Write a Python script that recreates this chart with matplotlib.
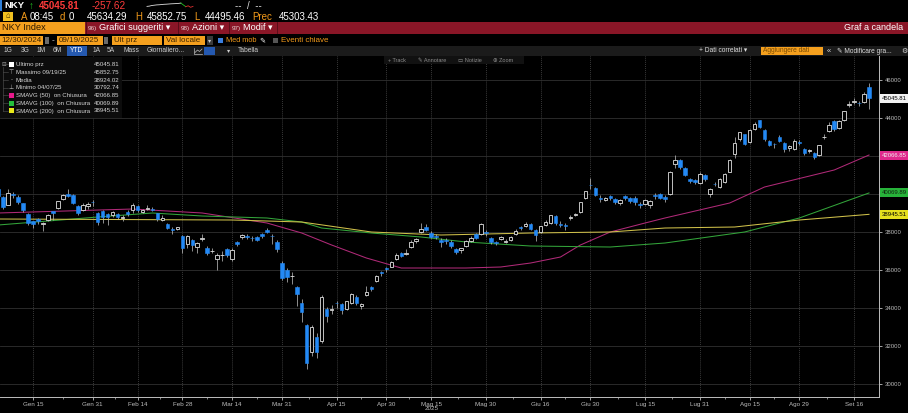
import numpy as np
import matplotlib
matplotlib.use("Agg")
import matplotlib.pyplot as plt
from matplotlib.patches import Rectangle

W, H = 908, 413
FONT = ['Liberation Sans', 'DejaVu Sans']
plt.rcParams['font.family'] = FONT

# ---------------- data (Nikkei 225, daily, trading-day index) ----------------
opens = [40281,
         39850, 39452, 40017, 39862, 39540, 38969, 38575, 38720, 38450, 38650, 39100, 39300, 39760, 40000, 39950, 39400, 39200, 39400, 39600,
         38990, 39100, 38950, 38900, 38980, 38750, 39050, 39200, 39400, 39080, 39250, 39250, 39000, 38650, 38450, 38150, 38200, 37800,
         37400, 37600, 37250, 37650, 37200, 37000, 36600, 36800, 37100, 36600, 37500, 37750, 37800, 37700, 37750, 37900, 38100, 37800, 37500, 36400,
         36000, 35700, 35100, 34300, 33100, 31700, 32500, 32300, 33950, 33900, 34300, 34250, 33950, 34300, 34600, 34100, 34700, 35100, 35450, 35900, 36100,
         36200, 36600, 36900, 36850, 37250, 37550, 38000, 38300, 37950, 37800, 37600, 37600, 37500, 37100, 37050, 37300, 37550, 37900, 37900, 38000,
         37700, 37450, 37650, 37500, 37600, 37900, 38300, 38350, 38450, 38100, 38000, 38400, 38500, 38850, 38450, 38400, 38750, 38900, 39050, 39800, 40500,
         40350, 39800, 39700, 39900, 39750, 39550, 39900, 39800, 39800, 39500, 39500, 39450, 39950, 40000, 39850, 40000, 41600, 41800, 41400, 40800, 40750, 40600,
         41000, 40000, 40550, 40400, 40650, 41200, 42100, 42900, 43150, 42750, 43450, 43900, 43400, 42800, 42650, 43000, 42700, 42450, 42400, 42750,
         42400, 42300, 42150, 42050, 43000, 43350, 43850, 43500, 43900, 44700, 44850, 44800, 44850, 45634.29]
highs = [40398,
         39922, 40288, 40118, 39960, 39547, 39000, 38605, 38778, 38544, 38950, 39090, 39650, 40036, 40279, 40000, 39420, 39560, 39600, 39700,
         39050, 39150, 39000, 39100, 39000, 38900, 39150, 39520, 39450, 39250, 39450, 39350, 39020, 38900, 38500, 38300, 38300, 37850,
         37850, 37650, 37500, 37900, 37300, 37200, 36900, 37000, 37200, 37200, 37550, 37900, 37900, 37800, 37800, 37950, 38220, 37900, 37600, 36500,
         36100, 35900, 35200, 34500, 33200, 33100, 32700, 34700, 34050, 34200, 34400, 34300, 34400, 34800, 34700, 34300, 35200, 35200, 35750, 35950, 36150,
         36500, 36900, 36950, 37100, 37600, 37700, 38500, 38450, 38050, 37900, 37700, 37700, 37600, 37200, 37200, 37600, 37800, 37950, 38500, 38100,
         37750, 37550, 37800, 37650, 37800, 38150, 38350, 38550, 38500, 38150, 38350, 38650, 38900, 38900, 38600, 38500, 38900, 39000, 39600, 40200, 40850,
         40400, 39950, 39850, 39950, 39800, 39750, 39950, 39850, 39900, 39600, 39750, 39700, 40050, 40050, 39950, 41250, 42065, 41850, 41450, 40850, 40800, 41150,
         41050, 40350, 40650, 40850, 41100, 41850, 42999, 43300, 43200, 43450, 43800, 43900, 43450, 42850, 42700, 43100, 42750, 42600, 42900, 42850,
         42450, 42400, 42250, 42600, 43200, 43800, 43900, 43900, 44400, 44900, 45050, 44900, 45400, 45852.75]
lows = [39745,
        39211, 39431, 39800, 39512, 39062, 38405, 38221, 38428, 38055, 38612, 38650, 39250, 39700, 39880, 39486, 38900, 39100, 39250, 39400,
        38400, 38500, 38400, 38800, 38700, 38600, 38850, 39000, 39050, 39000, 39150, 39100, 38600, 38600, 38200, 37900, 38100, 36900,
        37200, 37000, 36900, 37550, 36800, 36900, 36000, 36500, 36700, 36500, 37300, 37650, 37650, 37550, 37550, 37700, 37950, 37400, 36950, 35500,
        35400, 35300, 34100, 33300, 30792.74, 31500, 31400, 32200, 33300, 33700, 34000, 33700, 33900, 34250, 34200, 33950, 34650, 34900, 35400, 35700, 35900,
        36150, 36550, 36700, 36800, 37150, 37450, 37950, 38050, 37700, 37650, 37250, 37400, 37200, 36850, 36900, 37250, 37500, 37650, 37850, 37800,
        37400, 37350, 37600, 37450, 37550, 37850, 38100, 38300, 38100, 37550, 37950, 38350, 38450, 38400, 38300, 38100, 38650, 38850, 39000, 39750, 40300,
        39900, 39600, 39650, 39700, 39500, 39450, 39700, 39550, 39450, 39300, 39450, 39300, 39750, 39750, 39600, 39950, 41400, 41350, 40950, 40600, 40550, 40550,
        40700, 39850, 40450, 40350, 40600, 41150, 41900, 42800, 42600, 42700, 43400, 43500, 42800, 42550, 42450, 42750, 42250, 42300, 42350, 42600,
        42050, 42150, 41850, 42000, 42900, 43300, 43350, 43450, 43850, 44600, 44750, 44650, 44800, 44495.46]
closes = [39894.54,
          39307, 40083, 39981, 39605, 39190, 38474, 38444, 38572, 38451, 38902, 39027, 39646, 39958, 39931, 39565, 39016, 39414, 39513, 39572,
          38520, 38798, 38831, 39066, 38787, 38801, 38963, 39461, 39149, 39174, 39270, 39164, 38678, 38776, 38237, 38142, 38256, 37155,
          37785, 37331, 37418, 37704, 36887, 37028, 36793, 36819, 36790, 37053, 37396, 37845, 37751, 37677, 37608, 37780, 38027, 37799, 37120, 35617,
          35624, 35725, 34735, 33780, 31136, 33012, 31714, 34609, 33585, 33982, 34267, 33920, 34377, 34730, 34279, 34220, 34868, 35039, 35705, 35839, 36045,
          36452, 36830, 36779, 36928, 37503, 37644, 38183, 38128, 37755, 37753, 37498, 37529, 37298, 36985, 37160, 37531, 37724, 37722, 38432, 37965,
          37470, 37446, 37747, 37554, 37741, 38088, 38211, 38421, 38173, 37834, 38311, 38536, 38885, 38488, 38403, 38354, 38790, 38942, 39584, 40150, 40487,
          39986, 39762, 39785, 39810, 39587, 39688, 39821, 39646, 39569, 39459, 39678, 39663, 39901, 39819, 39774, 41171, 41826, 41456, 40998, 40674, 40654, 41069,
          40799, 40290, 40549, 40794, 41059, 41820, 42718, 43274, 42649, 43378, 43714, 43546, 42888, 42610, 42633, 42807, 42394, 42520, 42828, 42718,
          42188, 42310, 41938, 42580, 43018, 43643, 43459, 43837, 44372, 44768, 44902, 44790, 45303.43, 45045.81]

# moving averages (read at sampled trading-day indices)
sma50_idx = [0, 27, 41, 54, 61, 67, 74, 81, 94, 101, 107, 113, 117, 123, 130, 134, 147, 154, 168, 175]
sma50_val = [39016, 39226, 39016, 38490, 37963, 37332, 36647, 36121, 36121, 36174, 36384, 36700, 37332, 38016, 38490, 38753, 39542, 40384, 41279, 42066.85]
sma100_idx = [0, 20, 31, 41, 54, 61, 65, 75, 85, 94, 107, 123, 134, 150, 161, 175]
sma100_val = [38384, 38805, 39016, 38858, 38753, 38542, 38226, 37963, 37753, 37490, 37279, 37226, 37437, 38016, 38753, 40069.89]
sma200_idx = [0, 47, 61, 75, 89, 107, 123, 134, 148, 161, 175]
sma200_val = [38700, 38647, 38542, 38016, 37858, 37963, 38016, 38226, 38279, 38647, 38945.51]

xtick_idx = [7, 19, 28, 37, 47, 57, 68, 78, 87, 98, 109, 119, 130, 141, 151, 161, 172]
xtick_labels = ['Gen 15', 'Gen 31', 'Feb 14', 'Feb 28', 'Mar 14', 'Mar 31', 'Apr 15', 'Apr 30', 'Mag 15',
                'Mag 30', 'Giu 16', 'Giu 30', 'Lug 15', 'Lug 31', 'Ago 15', 'Ago 29', 'Set 16']
ytick_vals = [30000, 32000, 34000, 36000, 38000, 40000, 42000, 44000, 46000]
ytick_hidden = [40000, 42000]   # covered by the value boxes in the reference

legend_labels = ['Ultimo prz', 'Massimo 09/19/25', 'Media', 'Minimo 04/07/25',
                 'SMAVG (50)  on Chiusura', 'SMAVG (100)  on Chiusura', 'SMAVG (200)  on Chiusura']
legend_values = [45045.81, 45852.75, 38924.02, 30792.74, 42066.85, 40069.89, 38945.51]
spark_vals = [0.35, 0.4, 0.5, 0.55, 0.6, 0.62, 0.66, 0.7, 0.72, 0.75, 0.78, 0.8, 0.82, 0.85, 0.9, 0.6, 0.3, 0.45, 0.2, 0.35]

# ---------------- figure ----------------
fig = plt.figure(figsize=(W / 100, H / 100), dpi=100, facecolor='black')
top_px, bot_px, right_px = 56, 397, 879
ax = fig.add_axes([0, (H - bot_px) / H, right_px / W, (bot_px - top_px) / H])
ax.set_facecolor('black')

px_per_day, x0_px = 4.976, -1.8
ax.set_xlim((0 - x0_px) / px_per_day, (right_px - x0_px) / px_per_day)
ax.set_ylim(29332, 47279)

ax.set_yticks(ytick_vals)
ax.set_yticklabels(['' if v in ytick_hidden else str(v) for v in ytick_vals])
ax.set_xticks(xtick_idx)
ax.set_xticklabels(xtick_labels)
mids = [(a + b) / 2 for a, b in zip(xtick_idx[:-1], xtick_idx[1:])]
ax.set_xticks(mids, minor=True)
ax.yaxis.grid(True, color='#303030', lw=0.6)
ax.xaxis.grid(True, which='major', color='#5a5a5a', lw=0.5, linestyle=(0, (1.2, 1.6)))
ax.set_axisbelow(True)
ax.yaxis.tick_right()
ax.tick_params(axis='y', colors='#bdbdbd', labelsize=4.3, length=2, width=0.6, pad=2.5)
ax.tick_params(axis='x', which='major', colors='#bdbdbd', labelsize=4.5, length=2, width=0.6, pad=1.8)
ax.tick_params(axis='x', which='minor', colors='#9a9a9a', length=1.5, width=0.6)
for s in ['top', 'left']:
    ax.spines[s].set_visible(False)
for s in ['right', 'bottom']:
    ax.spines[s].set_color('#bdbdbd')
    ax.spines[s].set_linewidth(0.7)

# moving averages
ax.plot(sma50_idx, sma50_val, color='#b02a78', lw=0.75, zorder=2)
ax.plot(sma100_idx, sma100_val, color='#33a43a', lw=0.75, zorder=2)
ax.plot(sma200_idx, sma200_val, color='#cfc04a', lw=0.75, zorder=2)

# candles
o, hi, lo, c = map(np.array, (opens, highs, lows, closes))
idx = np.arange(len(c))
up = c >= o
blue = '#2389f5'
body_b = np.minimum(o, c)
body_h = np.maximum(np.abs(c - o), 18)
ax.vlines(idx, lo, hi, color='#b5b5b5', lw=0.55, zorder=3)
ax.bar(idx[up], body_h[up], bottom=body_b[up], width=0.7, facecolor='black',
       edgecolor='#e0e0e0', lw=0.6, zorder=4)
ax.bar(idx[~up], body_h[~up], bottom=body_b[~up], width=0.7, facecolor=blue,
       edgecolor=blue, lw=0.4, zorder=4)

# ---------------- overlay in pixel coordinates ----------------
hx = fig.add_axes([0, 0, 1, 1], zorder=10)
hx.set_xlim(0, W)
hx.set_ylim(H, 0)
hx.axis('off')
hx.patch.set_alpha(0)


def rect(x, y, w, h, fc, ec='none', lw=0.5, z=1):
    hx.add_patch(Rectangle((x, y), w, h, facecolor=fc, edgecolor=ec, lw=lw, zorder=z))


def txt(x, y, s, color='#d8d8d8', size=7, ha='left', weight='normal', z=3):
    hx.text(x, y, s, color=color, fontsize=size, ha=ha, va='center', fontweight=weight,
            family=FONT, zorder=z)


ORANGE = '#f5a01e'
ORANGE_T = '#f39a1a'
RED = '#ff3b3b'

# row 1
rect(0, 0, 2, 11, '#2f7fd8')
txt(4, 6, 'NKY', 'white', 6.8, weight='bold')
txt(29, 6, '↑', '#20c020', 7)
txt(39, 6, '45045.81', RED, 7, weight='bold')
txt(92, 6, '-257.62', RED, 7.2)
sx = np.linspace(147, 193, len(spark_vals))
sy = 8.5 - 6 * np.array(spark_vals)
hx.plot(sx[:15], sy[:15], color='#e0e0e0', lw=0.6)
hx.plot(sx[14:17], sy[14:17], color='#22c022', lw=0.6)
hx.plot(sx[16:], sy[16:], color='#e03030', lw=0.6)
txt(235, 6, '--  /  --', '#e0e0e0', 7)

# row 2
rect(3, 12, 10, 9, '#f0c020')
txt(8, 16.5, '⌂', '#3a2a00', 5.5, ha='center')
for x, s, col in [(21, 'A', ORANGE_T), (29.5, '08:45', 'white'), (60, 'd', ORANGE_T), (69, '0', 'white'),
                  (87, '45634.29', 'white'), (135, 'H', ORANGE_T), (147, '45852.75', 'white'),
                  (194, 'L', ORANGE_T), (205, '44495.46', 'white'), (252, 'Prec', ORANGE_T),
                  (279, '45303.43', 'white')]:
    txt(x, 16.5, s, col, 7)

# row 3 (red bar)
rect(0, 22, W, 12, '#8a1627')
rect(0, 22, 85, 12, ORANGE)
txt(1.5, 28, 'NKY Index', '#2a1800', 6.6)
for xs in [86, 178, 229, 277]:
    rect(xs, 22, 0.8, 12, '#5a0d18')
for x0, tag, lab in [(88, '96)', 'Grafici suggeriti ▾'), (181, '98)', 'Azioni ▾'), (232, '97)', 'Modif ▾')]:
    txt(x0, 28.3, tag, '#e8d0d0', 4.6)
    txt(x0 + 11, 28, lab, 'white', 6.6)
txt(903, 28, 'Graf a candela', 'white', 6.5, ha='right')

# row 4
rect(0, 36, 43, 9, ORANGE)
txt(1, 40.5, '12/30/2024', '#3a2200', 5.8)
rect(45, 37, 4, 7, '#6a6a6a')
txt(52, 40.5, '-', '#d0d0d0', 6)
rect(57, 36, 46, 9, ORANGE)
txt(58.5, 40.5, '09/19/2025', '#3a2200', 5.8)
rect(104, 37, 4, 7, '#6a6a6a')
rect(112, 36, 50, 9, ORANGE)
txt(114, 40.5, 'Ult prz', '#3a2200', 5.8)
rect(164, 36, 41, 9, ORANGE)
txt(166, 40.5, 'Val locale', '#3a2200', 5.8)
rect(207, 36, 6, 9, '#3a3a3a')
txt(210, 40.5, '▾', '#cccccc', 4.5, ha='center')
rect(218, 38, 5, 5, '#3b7fe0')
txt(226.5, 40.5, 'Med mob', ORANGE_T, 5.3)
txt(259.5, 40.5, '✎', 'white', 5.2)
rect(273, 38, 4.5, 4.5, '#555555')
txt(281, 40.5, 'Eventi chiave', ORANGE_T, 5.8)

# row 5
rect(0, 46, W, 10, '#1b1b1b')
for x, s in [(4, '1G'), (21, '3G'), (37, '1M'), (53, '6M'), (93, '1A'), (107, '5A'), (124, 'Mass'),
             (147, 'Giornaliero...'), (238, 'Tabella')]:
    txt(x, 51, s, '#cfcfcf', 4.8)
rect(67, 46, 20, 10, '#2559b0')
txt(77, 51, 'YTD', 'white', 4.8, ha='center')
hx.plot([194, 194, 202], [48, 54, 54], color='#bdbdbd', lw=0.5)
hx.plot([195, 197.5, 199.5, 202], [52.5, 50, 51.5, 49], color='#bdbdbd', lw=0.5)
rect(204, 47, 11, 8, '#2559b0')
txt(227, 51, '▾', '#cfcfcf', 4.5)
txt(699, 51, '+ Dati correlati ▾', '#dcdcdc', 4.8)
rect(761, 47, 62, 8, ORANGE)
txt(763, 51, 'Aggiungere dati', '#7a4a00', 4.8)
txt(827, 51, '«', '#dcdcdc', 5.5)
txt(837, 51, '✎ Modificare gra...', '#dcdcdc', 4.8)
txt(901, 51, '⚙', '#dcdcdc', 5)

# chart toolbar
rect(384, 56, 140, 8, '#111111')
txt(388, 60.5, '+ Track', '#8c8c8c', 4)
txt(418, 60.5, '✎ Annotare', '#8c8c8c', 4)
txt(458, 60.5, '▭ Notizie', '#8c8c8c', 4)
txt(493, 60.5, '⊕ Zoom', '#8c8c8c', 4)

# legend
rect(0, 57, 122, 61, '#0c0c0c', z=2)
leg_y = [64.3, 72.3, 80, 87.7, 95.3, 103.3, 111]
leg_marks = [('sq', 'white'), ('⊤', '#bdbdbd'), ('-', '#bdbdbd'), ('⊥', '#bdbdbd'),
             ('sq', '#e8198b'), ('sq', '#25c03c'), ('sq', '#e8e81a')]
txt(1.2, 64.3, '⊟', '#9a9a9a', 4)
hx.plot([3.2, 3.2], [67, 111], color='#555555', lw=0.4, zorder=3)
for yy, (m, col), lab, val in zip(leg_y, leg_marks, legend_labels, legend_values):
    hx.plot([3.2, 8], [yy, yy], color='#555555', lw=0.4, zorder=3)
    if m == 'sq':
        rect(9, yy - 2.6, 5, 5, col, z=3)
    else:
        txt(11.5, yy, m, col, 4.2, ha='center')
    txt(16, yy, lab, '#d6d6d6', 4.4)
    txt(119.5, yy, f'{val:.2f}', '#d6d6d6', 4.4, ha='right')


def ypx(v):
    y0, y1 = ax.get_ylim()
    return bot_px - (v - y0) / (y1 - y0) * (bot_px - top_px)


for val, fc, tc in [(closes[-1], '#f2f2f2', 'black'), (legend_values[4], '#e0288c', '#f0f0f0'),
                    (legend_values[5], '#27b33a', '#102010'), (legend_values[6], '#e6e01e', 'black')]:
    yy = ypx(val)
    rect(880, yy - 4.5, 30, 9, fc, z=4)
    txt(882, yy, f'{val:.2f}', tc, 4.3, z=5)

txt(432, 409, '2025', '#bdbdbd', 4.5, ha='center')

fig.savefig('out.png', dpi=100, facecolor='black')
